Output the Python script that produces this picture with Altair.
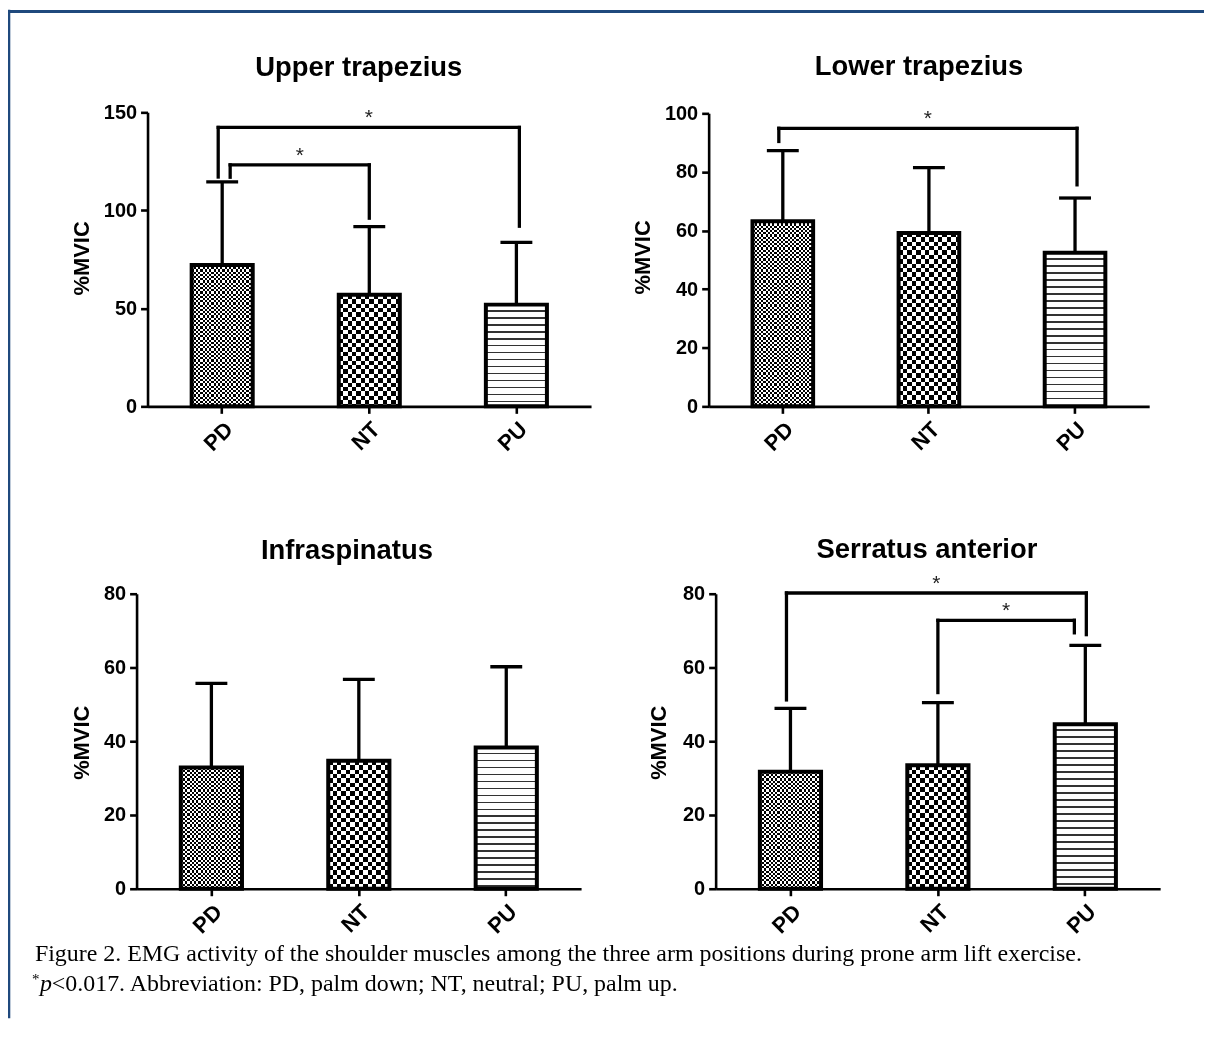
import math
import altair as alt
import pandas as pd

# ---------------- data ----------------
categories = ["PD", "NT", "PU"]
panel_titles = ["Upper trapezius", "Lower trapezius", "Infraspinatus", "Serratus anterior"]
y_title = "%MVIC"

ut_mean = [72.1, 56.9, 51.9]
ut_sd = [42.4, 34.8, 31.8]
lt_mean = [63.2, 59.2, 52.4]
lt_sd = [24.1, 22.3, 18.7]
is_mean = [32.9, 34.7, 38.3]
is_sd = [22.8, 22.1, 21.9]
sa_mean = [31.7, 33.5, 44.6]
sa_sd = [17.2, 17.0, 21.4]

ut_ticks = [0, 50, 100, 150]
lt_ticks = [0, 20, 40, 60, 80, 100]
is_ticks = [0, 20, 40, 60, 80]
sa_ticks = [0, 20, 40, 60, 80]

# significance brackets: left group, right group, bracket height, left leg end, right leg end
ut_br_left = ["PD", "PD"]
ut_br_right = ["PU", "NT"]
ut_br_h = [142.3, 123.2]
ut_br_lend = [117.0, 116.9]
ut_br_rend = [91.9, 96.0]

lt_br_left = ["PD"]
lt_br_right = ["PU"]
lt_br_h = [94.9]
lt_br_lend = [90.4]
lt_br_rend = [75.6]

is_br_left, is_br_right, is_br_h, is_br_lend, is_br_rend = [], [], [], [], []

sa_br_left = ["PD", "NT"]
sa_br_right = ["PU", "PU"]
sa_br_h = [80.2, 72.8]
sa_br_lend = [51.2, 53.2]
sa_br_rend = [68.9, 69.4]

caption_1 = "Figure 2. EMG activity of the shoulder muscles among the three arm positions during prone arm lift exercise."
caption_2_star = "*"
caption_2_p = "p"
caption_2_rest = "<0.017. Abbreviation: PD, palm down; NT, neutral; PU, palm up."

# ---------------- layout / style ----------------
W_ALL, H_ALL = 1200, 1012
PAD_IN, PAD_OUT = 0.585, 0.30
FONT = "Liberation Sans"
LW = 3.3

layouts = [
    dict(x0=140, w=445, ybot=398, ytop=103, ymax=150, tx=352, ty=59, ytx=-66, yty=249, dx=[(-4, 3), (8, 0)]),
    dict(x0=703, w=442, ybot=398, ytop=104, ymax=100, tx=914, ty=58, ytx=-66, yty=248, dx=[(-4, 2)]),
    dict(x0=129, w=446, ybot=882, ytop=586, ymax=80, tx=340, ty=543, ytx=-55, yty=735, dx=[]),
    dict(x0=710, w=446, ybot=882, ytop=586, ymax=80, tx=922, ty=542, ytx=-57, yty=735, dx=[(-4, 1), (0, -11)]),
]


def stripe_gradient(length, segments, along_y):
    """segments: list of (px, colour) repeated along the length."""
    stops = []
    pos = 0.0
    k = 0
    while pos < length:
        px, col = segments[k % len(segments)]
        a = min(pos / length, 1.0)
        b = min((pos + px) / length, 1.0)
        stops.append({"offset": round(a, 5), "color": col})
        stops.append({"offset": round(b, 5), "color": col})
        pos += px
        k += 1
    g = {"gradient": "linear", "stops": stops, "x1": 0, "y1": 0}
    if along_y:
        g.update({"x2": 0, "y2": 1})
    else:
        g.update({"x2": 1, "y2": 0})
    return g


def panel(means, sds, ticks, br, L, title):
    df = pd.DataFrame({"cat": categories, "mean": means,
                       "top": [m + s for m, s in zip(means, sds)]})
    step = L["w"] / (3 - PAD_IN + 2 * PAD_OUT)
    bw = step * (1 - PAD_IN)
    ppu = (L["ybot"] - L["ytop"]) / L["ymax"]

    xs = alt.Scale(domain=categories, range=[L["x0"], L["x0"] + L["w"]],
                   paddingInner=PAD_IN, paddingOuter=PAD_OUT)
    ys = alt.Scale(domain=[0, L["ymax"]], range=[L["ybot"], L["ytop"]], nice=False, zero=True)

    xaxis = alt.Axis(orient="bottom", offset=L["ybot"] - H_ALL, title=None, labelAngle=315,
                     labelPadding=5, labelFontSize=22)
    yaxis = alt.Axis(orient="left", offset=-L["x0"], values=ticks, title=y_title,
                     titleX=L["ytx"], titleY=L["yty"], titleAngle=270, titleAlign="center",
                     titleBaseline="middle", labelPadding=4, format="d")

    def X(field="cat"):
        return alt.X(f"{field}:N", scale=xs, sort=categories, axis=xaxis)

    def Y(field):
        return alt.Y(f"{field}:Q", scale=ys, axis=yaxis)

    layers = []
    for i, c in enumerate(categories):
        sub = df[df.cat == c]
        h = means[i] * ppu
        if c == "PU":
            g = stripe_gradient(h, [(5.2, "#ffffff"), (1.8, "#333333")], True)
            layers.append(alt.Chart(sub).mark_bar(fill=g).encode(x=X(), y=Y("mean")))
        else:
            cell = 2.2 if c == "PD" else 4.4
            gh = stripe_gradient(h, [(cell, "#ffffff"), (cell, "#000000")], True)
            gv = stripe_gradient(bw, [(cell, "#ffffff"), (cell, "#000000")], False)
            layers.append(alt.Chart(sub).mark_bar(fill=gh).encode(x=X(), y=Y("mean")))
            layers.append(alt.Chart(sub).mark_bar(fill=gv, blend="difference").encode(x=X(), y=Y("mean")))

    # outlines
    layers.append(alt.Chart(df).mark_bar(fillOpacity=0, stroke="black", strokeWidth=4)
                  .encode(x=X(), y=Y("mean")))
    # error bars
    layers.append(alt.Chart(df).mark_rule(color="black", strokeWidth=LW)
                  .encode(x=X(), y=Y("mean"), y2=alt.Y2("top")))
    layers.append(alt.Chart(df).mark_tick(color="black", size=32, thickness=LW, opacity=1,
                                          orient="horizontal")
                  .encode(x=X(), y=Y("top")))

    # brackets
    bl, brr, bh, ble, bre = br
    for k in range(len(bl)):
        dl, dr = L["dx"][k]
        bdf = pd.DataFrame({"l": [bl[k]], "r": [brr[k]], "h": [bh[k]], "le": [ble[k]], "re": [bre[k]]})
        layers.append(alt.Chart(bdf).mark_rule(color="black", strokeWidth=LW, strokeCap="square",
                                               xOffset=dl, x2Offset=dr)
                      .encode(x=X("l"), x2=alt.X2("r"), y=Y("h")))
        layers.append(alt.Chart(bdf).mark_rule(color="black", strokeWidth=LW, strokeCap="square",
                                               xOffset=dl)
                      .encode(x=X("l"), y=Y("h"), y2=alt.Y2("le")))
        layers.append(alt.Chart(bdf).mark_rule(color="black", strokeWidth=LW, strokeCap="square",
                                               xOffset=dr)
                      .encode(x=X("r"), y=Y("h"), y2=alt.Y2("re")))
        i1 = categories.index(bl[k])
        i2 = categories.index(brr[k])
        sdx = ((i2 - i1) * step + dl + dr) / 2
        layers.append(alt.Chart(bdf).mark_text(text="*", xOffset=sdx, dy=-3, fontSize=21,
                                               font=FONT, baseline="alphabetic", color="#222222")
                      .encode(x=X("l"), y=Y("h")))

    # panel title
    layers.append(alt.Chart(pd.DataFrame({"t": [title]}))
                  .mark_text(font=FONT, fontSize=27.5, fontWeight="bold", align="center",
                             baseline="middle", color="black")
                  .encode(x=alt.value(L["tx"]), y=alt.value(L["ty"]), text="t:N"))
    return alt.layer(*layers)


panels = [
    panel(ut_mean, ut_sd, ut_ticks, (ut_br_left, ut_br_right, ut_br_h, ut_br_lend, ut_br_rend),
          layouts[0], panel_titles[0]),
    panel(lt_mean, lt_sd, lt_ticks, (lt_br_left, lt_br_right, lt_br_h, lt_br_lend, lt_br_rend),
          layouts[1], panel_titles[1]),
    panel(is_mean, is_sd, is_ticks, (is_br_left, is_br_right, is_br_h, is_br_lend, is_br_rend),
          layouts[2], panel_titles[2]),
    panel(sa_mean, sa_sd, sa_ticks, (sa_br_left, sa_br_right, sa_br_h, sa_br_lend, sa_br_rend),
          layouts[3], panel_titles[3]),
]

CAP_FS = 24
one = pd.DataFrame({"t": [""]})
cap1 = alt.Chart(pd.DataFrame({"t": [caption_1]})).mark_text(
    font="Liberation Serif", fontSize=CAP_FS, align="left", baseline="alphabetic", color="black"
).encode(x=alt.value(27), y=alt.value(954), text="t:N")
cap2a = alt.Chart(pd.DataFrame({"t": [caption_2_star]})).mark_text(
    font="Liberation Serif", fontSize=15, align="left", baseline="alphabetic", color="black"
).encode(x=alt.value(24), y=alt.value(978), text="t:N")
cap2b = alt.Chart(pd.DataFrame({"t": [caption_2_p]})).mark_text(
    font="Liberation Serif", fontSize=CAP_FS, fontStyle="italic", align="left", baseline="alphabetic",
    color="black"
).encode(x=alt.value(32), y=alt.value(985), text="t:N")
cap2c = alt.Chart(pd.DataFrame({"t": [caption_2_rest]})).mark_text(
    font="Liberation Serif", fontSize=CAP_FS, align="left", baseline="alphabetic", color="black"
).encode(x=alt.value(44), y=alt.value(985), text="t:N")

border_top = alt.Chart(one).mark_rule(color="#1f497d", strokeWidth=3).encode(
    x=alt.value(0), x2=alt.value(W_ALL), y=alt.value(1.7))
border_left = alt.Chart(one).mark_rule(color="#1f497d", strokeWidth=3).encode(
    x=alt.value(0.8), y=alt.value(0), y2=alt.value(H_ALL))

chart = alt.layer(*panels, cap1, cap2a, cap2b, cap2c, border_top, border_left).resolve_scale(
    x="independent", y="independent"
).resolve_axis(
    x="independent", y="independent"
).properties(
    width=W_ALL, height=H_ALL, padding=0, autosize=alt.AutoSizeParams(type="none"),
    background="white"
).configure_view(
    strokeWidth=0
).configure_axis(
    grid=False, labelFont=FONT, labelFontWeight="bold", labelFontSize=20, labelColor="black",
    domainColor="black", domainWidth=2.6, tickColor="black", tickWidth=2.6, tickSize=7,
    titleFont=FONT, titleFontSize=22, titleFontWeight="bold", titleColor="black"
)

chart.save("out.html", embed_options={"renderer": "svg", "actions": False})
